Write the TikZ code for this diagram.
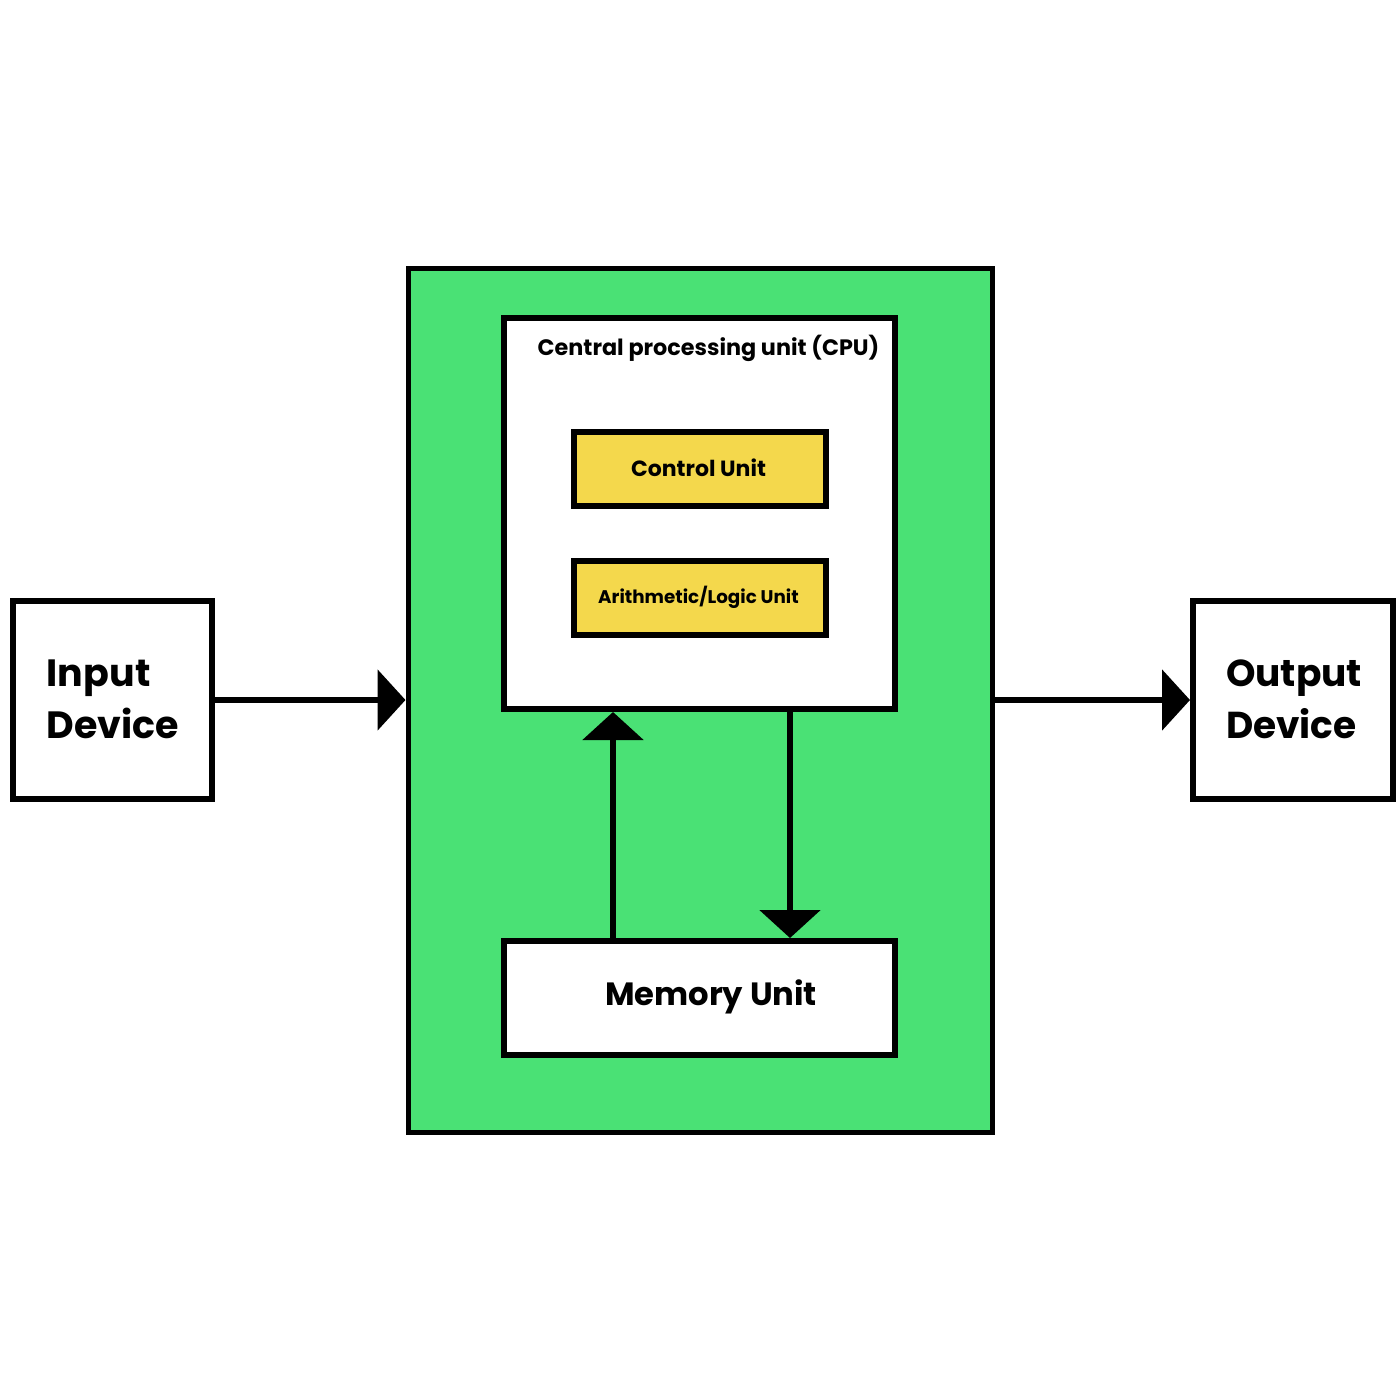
\documentclass[tikz,border=0pt]{standalone}
\usepackage{fontspec}
\setmainfont{Poppins}
\usetikzlibrary{arrows.meta}
\definecolor{cpugreen}{HTML}{4AE175}
\definecolor{unityellow}{HTML}{F4D84C}
\begin{document}
\begin{tikzpicture}[x=1pt,y=-1pt,
  box/.style={draw=black, line width=6pt, fill=white, inner sep=0pt},
  ybox/.style={box, fill=unityellow, minimum width=252pt, minimum height=74pt},
  lbl/.style={font=\bfseries, text=black, inner sep=0pt},
  conn/.style={line width=6pt, -{Triangle[length=28pt,width=60pt]}}]
\useasboundingbox (0,0) rectangle (1400,1400);
\fill[white] (0,0) rectangle (1400,1400);
% main green enclosure
\node[box, fill=cpugreen, line width=5pt, minimum width=584pt, minimum height=864pt] (main) at (700,700) {};
% CPU
\node[box, minimum width=391pt, minimum height=391pt] (cpu) at (699.5,513.5) {};
\node[lbl, font=\bfseries\fontsize{22.3}{27}\selectfont] (cputitle) at (708.5,348) {Central processing unit (CPU)};
\node[ybox] (cu) at (700,469) {};
\node[lbl, font=\bfseries\fontsize{22}{26}\selectfont] (cutext) at (698.5,468) {Control Unit};
\node[ybox] (alu) at (700,598) {};
\node[lbl, font=\bfseries\fontsize{18.3}{22}\selectfont] (alutext) at (698.5,597) {Arithmetic/Logic Unit};
% Memory
\node[box, minimum width=391pt, minimum height=114pt] (mem) at (699.5,998) {};
\node[lbl, font=\bfseries\fontsize{32.2}{40}\selectfont] (memtext) at (711,997) {Memory Unit};
% Input / Output
\node[box, minimum width=199pt, minimum height=198pt] (in) at (112.5,700) {};
\node[lbl, align=left, font=\bfseries\fontsize{38}{52}\selectfont] (intext) at (113,699) {Input\\Device};
\node[box, minimum width=200pt, minimum height=198pt] (out) at (1293,700) {};
\node[lbl, align=left, font=\bfseries\fontsize{37.5}{52}\selectfont] (outtext) at (1294,699) {Output\\Device};
% connectors
\draw[conn] (in.east) -- (main.west);
\draw[conn] (main.east) -- (out.west);
\draw[conn] (mem.north -| 613,0) -- (cpu.south -| 613,0);
\draw[conn] (cpu.south -| 790,0) -- (mem.north -| 790,0);
\end{tikzpicture}
\end{document}
